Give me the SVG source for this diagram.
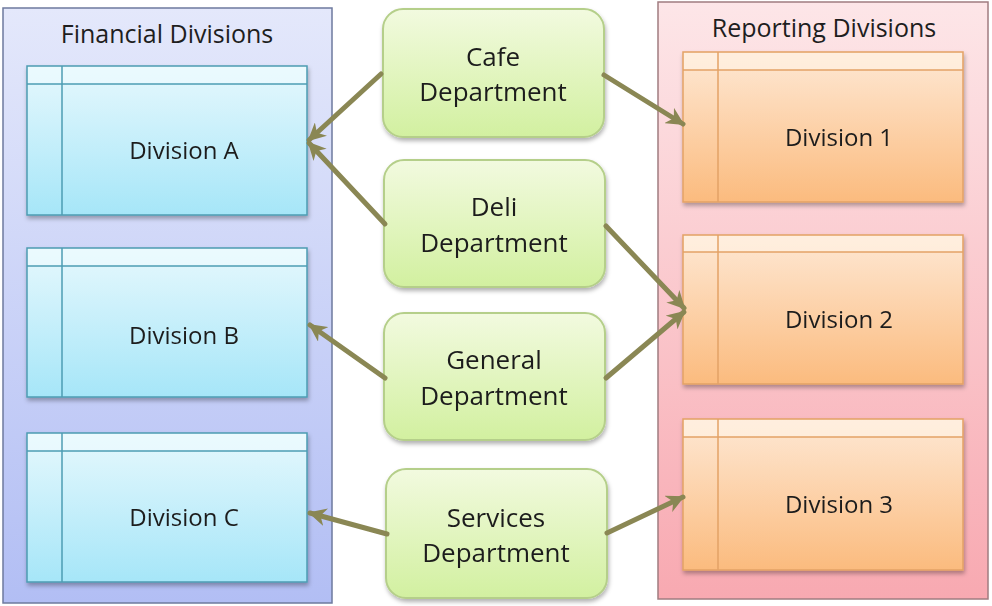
<svg xmlns="http://www.w3.org/2000/svg" width="992" height="606" viewBox="0 0 992 606">
<defs>
<linearGradient id="gLeft" x1="0" y1="0" x2="0" y2="1"><stop offset="0" stop-color="#e4e8fb"/><stop offset="1" stop-color="#b2bef4"/></linearGradient>
<linearGradient id="gRight" x1="0" y1="0" x2="0" y2="1"><stop offset="0" stop-color="#fde6e8"/><stop offset="1" stop-color="#f8a9b1"/></linearGradient>
<linearGradient id="gBlue" x1="0" y1="0" x2="0" y2="1"><stop offset="0" stop-color="#e6f8fd"/><stop offset="1" stop-color="#a6e6f8"/></linearGradient>
<linearGradient id="gOrange" x1="0" y1="0" x2="0" y2="1"><stop offset="0" stop-color="#fee8d4"/><stop offset="1" stop-color="#fbbb7e"/></linearGradient>
<linearGradient id="gGreen" x1="0" y1="0" x2="0" y2="1"><stop offset="0" stop-color="#f2fadf"/><stop offset="1" stop-color="#d2f0a0"/></linearGradient>
<filter id="sh" x="-10%" y="-10%" width="120%" height="125%"><feDropShadow dx="1" dy="3" stdDeviation="2" flood-color="#000" flood-opacity="0.3"/></filter>
<marker id="ah" viewBox="0 0 10 10" refX="9" refY="5" markerWidth="18" markerHeight="18" markerUnits="userSpaceOnUse" orient="auto"><path d="M0,0 L10,5 L0,10 L3,5 z" fill="#8a8754"/></marker>
<style>
.t{font-family:"Open Sans","Noto Sans",sans-serif;fill:#1e1e1e;text-anchor:middle}
.title{font-size:25px}
.div{font-size:24px}
.dep{font-size:26px}
.blue{fill:url(#gBlue);stroke:#4d9cb3;stroke-width:1.5}
.bl{stroke:#4d9cb3;stroke-width:1.5;fill:none}
.bhd{fill:#eefbff;opacity:0.6}
.orng{fill:url(#gOrange);stroke:#e3a266;stroke-width:1.5}
.ol{stroke:#e3a266;stroke-width:1.5;fill:none}
.ohd{fill:#fff3e6;opacity:0.6}
.green{fill:url(#gGreen);stroke:#b5cf8a;stroke-width:2}
.c{stroke:#8a8754;stroke-width:5;fill:none;marker-end:url(#ah);stroke-linecap:round}
</style>
</defs>
<rect width="992" height="606" fill="#ffffff"/>

<g id="financial-divisions">
<rect x="3" y="8" width="329" height="595" fill="url(#gLeft)" stroke="#6e7a9e" stroke-width="1.5"/>
<text class="t title" x="167" y="43">Financial Divisions</text>
</g>
<g id="reporting-divisions">
<rect x="658" y="2" width="330" height="597" fill="url(#gRight)" stroke="#a07c80" stroke-width="1.5"/>
<text class="t title" x="824" y="37">Reporting Divisions</text>
</g>

<g id="division-a" filter="url(#sh)">
<rect class="blue" x="27" y="66" width="280" height="149"/>
<rect class="bhd" x="28" y="67" width="278" height="17"/>
<line class="bl" x1="27" y1="84" x2="307" y2="84"/>
<line class="bl" x1="62" y1="66" x2="62" y2="215"/>
<text class="t div" x="184" y="159">Division A</text>
</g>
<g id="division-b" filter="url(#sh)">
<rect class="blue" x="27" y="248" width="280" height="149"/>
<rect class="bhd" x="28" y="249" width="278" height="17"/>
<line class="bl" x1="27" y1="266" x2="307" y2="266"/>
<line class="bl" x1="62" y1="248" x2="62" y2="397"/>
<text class="t div" x="184" y="344">Division B</text>
</g>
<g id="division-c" filter="url(#sh)">
<rect class="blue" x="27" y="433" width="280" height="149"/>
<rect class="bhd" x="28" y="434" width="278" height="17"/>
<line class="bl" x1="27" y1="451" x2="307" y2="451"/>
<line class="bl" x1="62" y1="433" x2="62" y2="582"/>
<text class="t div" x="184" y="526">Division C</text>
</g>

<g id="division-1" filter="url(#sh)">
<rect class="orng" x="683" y="52" width="280" height="150"/>
<rect class="ohd" x="684" y="53" width="278" height="17"/>
<line class="ol" x1="683" y1="70" x2="963" y2="70"/>
<line class="ol" x1="718" y1="52" x2="718" y2="202"/>
<text class="t div" x="839" y="146">Division 1</text>
</g>
<g id="division-2" filter="url(#sh)">
<rect class="orng" x="683" y="235" width="280" height="149"/>
<rect class="ohd" x="684" y="236" width="278" height="16"/>
<line class="ol" x1="683" y1="252" x2="963" y2="252"/>
<line class="ol" x1="718" y1="235" x2="718" y2="384"/>
<text class="t div" x="839" y="328">Division 2</text>
</g>
<g id="division-3" filter="url(#sh)">
<rect class="orng" x="683" y="419" width="280" height="151"/>
<rect class="ohd" x="684" y="420" width="278" height="17"/>
<line class="ol" x1="683" y1="437" x2="963" y2="437"/>
<line class="ol" x1="718" y1="419" x2="718" y2="570"/>
<text class="t div" x="839" y="513">Division 3</text>
</g>

<g id="cafe-department" filter="url(#sh)">
<rect class="green" x="383" y="9" width="221" height="128" rx="20"/>
<text class="t dep" x="493" y="66">Cafe</text>
<text class="t dep" x="493" y="101">Department</text>
</g>
<g id="deli-department" filter="url(#sh)">
<rect class="green" x="384" y="160" width="221" height="127" rx="20"/>
<text class="t dep" x="494" y="216">Deli</text>
<text class="t dep" x="494" y="252">Department</text>
</g>
<g id="general-department" filter="url(#sh)">
<rect class="green" x="384" y="313" width="221" height="127" rx="20"/>
<text class="t dep" x="494" y="369">General</text>
<text class="t dep" x="494" y="405">Department</text>
</g>
<g id="services-department" filter="url(#sh)">
<rect class="green" x="386" y="469" width="221" height="129" rx="20"/>
<text class="t dep" x="496" y="527">Services</text>
<text class="t dep" x="496" y="562">Department</text>
</g>

<g id="connectors">
<line class="c" x1="381" y1="74" x2="309" y2="140"/>
<line class="c" x1="385" y1="224" x2="309" y2="143"/>
<line class="c" x1="604" y1="75" x2="683" y2="124"/>
<line class="c" x1="606" y1="226" x2="684" y2="308"/>
<line class="c" x1="606" y1="378" x2="684" y2="312"/>
<line class="c" x1="385" y1="378" x2="310" y2="325"/>
<line class="c" x1="387" y1="534" x2="310" y2="513"/>
<line class="c" x1="607" y1="533" x2="683" y2="497"/>
</g>
</svg>
